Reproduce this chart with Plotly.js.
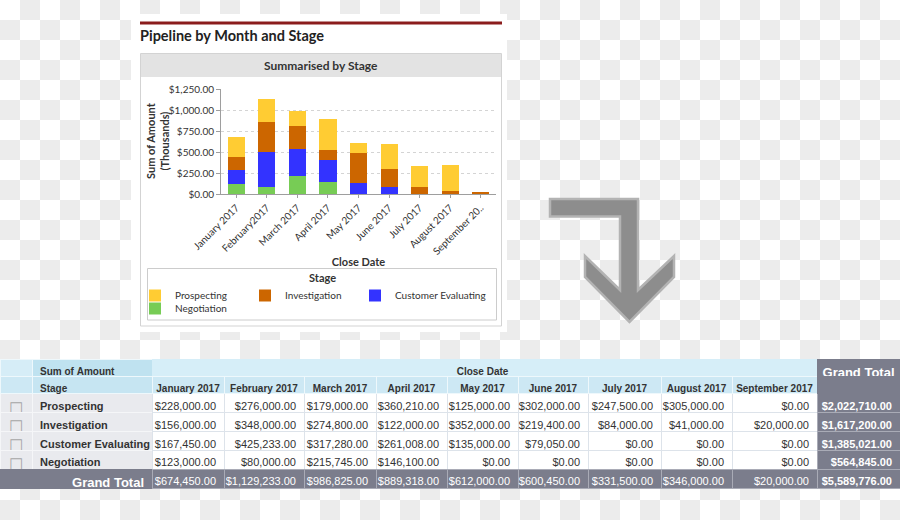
<!DOCTYPE html>
<html><head><meta charset="utf-8">
<script src="https://cdn.plot.ly/plotly-3.0.1.min.js"></script>
<style>
html,body{margin:0;padding:0;width:900px;height:520px;overflow:hidden;}
body{background:#fff repeating-conic-gradient(#ececec 0 25%, #ffffff 0 50%) 0 0/40px 40px;}
#tbl{position:absolute;left:0;top:0;width:900px;height:520px;}
#chart{position:absolute;left:131px;top:14px;width:376px;height:318px;}
</style></head>
<body><div id="tbl"></div><div id="chart"></div>
<script>
// ---------- data ----------
var stages = ['Prospecting', 'Investigation', 'Customer Evaluating', 'Negotiation'];
var months = ['January 2017', 'February 2017', 'March 2017', 'April 2017', 'May 2017', 'June 2017', 'July 2017', 'August 2017', 'September 2017'];
var chartTickLabels = ['January 2017', 'February2017', 'March 2017', 'April 2017', 'May 2017', 'June 2017', 'July 2017', 'August 2017', 'September 20..'];
var prospecting = [228000, 276000, 179000, 360210, 125000, 302000, 247500, 305000, 0];
var investigation = [156000, 348000, 274800, 122000, 352000, 219400, 84000, 41000, 20000];
var customerEvaluating = [167450, 425233, 317280, 261008, 135000, 79050, 0, 0, 0];
var negotiation = [123000, 80000, 215745, 146100, 0, 0, 0, 0, 0];
var monthTotals = [674450, 1129233, 986825, 889318, 612000, 600450, 331500, 346000, 20000];
var stageTotals = [2022710, 1617200, 1385021, 564845];
var grandTotal = 5589776;
var gridVals = [250, 500, 750, 1000];
var stageColors = ['#ffcc33', '#cc6600', '#3333ff', '#77cc55'];

var nb = function (s) { return s.replace(/ /g, '\u00a0'); };
var cfg = {staticPlot: true, displayModeBar: false};

// ---------- table ----------
(function () {
  var series = [prospecting, investigation, customerEvaluating, negotiation];
  var cols = [];
  cols.push(stages.map(function () { return '\u2610'; }).concat(['']));
  cols.push(stages.map(nb).concat([nb('Grand Total')]));
  months.forEach(function (m, i) {
    cols.push(series.map(function (s) { return s[i]; }).concat([monthTotals[i]]));
  });
  cols.push(stageTotals.concat([grandTotal]));

  var nCols = cols.length;
  var dark = '#7b7d8c';
  var hdrVals = [], hdrFill = [], hdrLine = [], hdrColor = [], hdrSize = [], hdrAlign = [];
  var celFill = [], celLine = [], celColor = [], celSize = [], celWeight = [], celAlign = [], fmt = [];
  for (var c = 0; c < nCols; c++) {
    var isMonth = c >= 2 && c < nCols - 1;
    if (c === 0) {
      hdrVals.push(['', '']); hdrFill.push(['#d6edf7', '#cde8f4']); hdrLine.push(['#eef8fc', '#eef8fc']);
      hdrColor.push('#333'); hdrSize.push(10); hdrAlign.push('center');
      celFill.push(['#e9eaee', '#e9eaee', '#e9eaee', '#e9eaee', dark]);
      celLine.push(['#f5f6f8', '#f5f6f8', '#f5f6f8', '#f5f6f8', dark]);
      celColor.push('#a6a6a6'); celSize.push(16); celWeight.push(400); celAlign.push('center'); fmt.push('');
    } else if (c === 1) {
      hdrVals.push([nb('Sum of Amount'), 'Stage']); hdrFill.push(['#bfe2f0', '#c6e5f2']); hdrLine.push(['#eef8fc', '#eef8fc']);
      hdrColor.push('#333'); hdrSize.push(10); hdrAlign.push('left');
      celFill.push(['#e9eaee', '#e9eaee', '#e9eaee', '#e9eaee', dark]);
      celLine.push(['#f5f6f8', '#f5f6f8', '#f5f6f8', '#f5f6f8', dark]);
      celColor.push(['#333', '#333', '#333', '#333', '#ffffff']); celSize.push([11, 11, 11, 11, 13]);
      celWeight.push(700); celAlign.push(['left', 'left', 'left', 'left', 'right']); fmt.push('');
    } else if (isMonth) {
      hdrVals.push([c === 6 ? nb('Close Date') : '', nb(months[c - 2])]);
      hdrFill.push(['#d6eef8', '#cde8f4']); hdrLine.push(['#d6eef8', '#eef8fc']);
      hdrColor.push('#333'); hdrSize.push(10); hdrAlign.push('center');
      celFill.push(['#ffffff', '#ffffff', '#ffffff', '#ffffff', dark]);
      celLine.push(['#dde3ea', '#dde3ea', '#dde3ea', '#dde3ea', '#a9abb6']);
      celColor.push(['#333', '#333', '#333', '#333', '#ffffff']); celSize.push(11);
      celWeight.push(400); celAlign.push('right'); fmt.push('$,.2f');
    } else {
      hdrVals.push([nb('Grand Total'), '']); hdrFill.push([dark, dark]); hdrLine.push([dark, dark]);
      hdrColor.push('#ffffff'); hdrSize.push(13); hdrAlign.push('center');
      celFill.push([dark, dark, dark, dark, dark]);
      celLine.push(['#a9abb6', '#a9abb6', '#a9abb6', '#a9abb6', '#a9abb6']);
      celColor.push('#ffffff'); celSize.push(11); celWeight.push(700); celAlign.push('right'); fmt.push('$,.2f');
    }
  }
  var widths = [32, 120, 72, 80, 72, 71, 71, 70, 73, 71, 85, 83];

  var P = function (x, y) { return (x / 900).toFixed(5) + ',' + (1 - y / 520).toFixed(5); };
  var arrowPts = [[550, 199], [638, 199], [638, 290], [674, 256], [674, 277], [629.5, 322], [585, 277], [585, 256], [620, 290], [620, 216.5], [550, 216.5]];
  var path = 'M' + arrowPts.map(function (p) { return P(p[0], p[1]); }).join('L') + 'Z';

  Plotly.newPlot('tbl', [{
    type: 'table',
    domain: {x: [0, 1], y: [0, 1 - 359.5 / 520]},
    columnwidth: widths,
    header: {
      values: hdrVals,
      height: 17,
      align: hdrAlign,
      fill: {color: hdrFill},
      line: {color: hdrLine, width: 1},
      font: {family: 'Liberation Sans, Arial, sans-serif', size: hdrSize, color: hdrColor, weight: 700}
    },
    cells: {
      values: cols,
      height: 18.9,
      align: celAlign,
      format: fmt,
      fill: {color: celFill},
      line: {color: celLine, width: 1},
      font: {family: 'Liberation Sans, Arial, sans-serif', size: celSize, color: celColor, weight: celWeight}
    }
  }], {
    width: 900, height: 520,
    margin: {l: 0, r: 0, t: 0, b: 0, autoexpand: false},
    paper_bgcolor: 'rgba(0,0,0,0)',
    shapes: [{type: 'path', xref: 'paper', yref: 'paper', path: path,
      fillcolor: '#8d8d8d', line: {color: '#b3b3b3', width: 2.5}}]
  }, cfg);
})();

// ---------- chart ----------
(function () {
  var W = 376, H = 318, OX = 131, OY = 14;
  var PL = 221, PR = 496, PT = 89, PB = 194;
  var PW = PR - PL, PH = PB - PT;
  var fx = function (px) { return (px - PL) / PW; };
  var fy = function (py) { return (PB - py) / PH; };
  var k = function (arr) { return arr.map(function (v) { return v / 1000; }); };
  var series = [prospecting, investigation, customerEvaluating, negotiation];
  var legendIds = ['legend', 'legend2', 'legend3', 'legend4'];
  var legendPos = [[135, 281], [245, 281], [355, 281], [135, 294]];
  var traces = [];
  for (var i = series.length - 1; i >= 0; i--) {
    traces.push({type: 'bar', name: stages[i], x: months, y: k(series[i]), legend: legendIds[i],
      marker: {color: stageColors[i], line: {width: 0}}});
  }
  var bold = function (size) { return {family: 'Lato, sans-serif', size: size, color: '#333', weight: 700}; };
  var layout = {
    width: W, height: H,
    margin: {l: PL - OX, r: OX + W - PR, t: PT - OY, b: OY + H - PB, autoexpand: false},
    paper_bgcolor: '#ffffff', plot_bgcolor: '#ffffff',
    barmode: 'stack', bargap: 0.44,
    title: {text: 'Pipeline by Month and Stage', font: {family: 'Lato, sans-serif', size: 14.5, color: '#222', weight: 700},
      xref: 'container', yref: 'container', x: 9 / W, xanchor: 'left', y: 1 - 22 / H, yanchor: 'middle'},
    xaxis: {type: 'category', tickvals: months, ticktext: chartTickLabels, tickangle: -45,
      tickfont: {family: 'Lato, sans-serif', size: 10, color: '#333'},
      showline: true, linecolor: '#9e9e9e', ticks: 'outside', ticklen: 3, tickcolor: '#9e9e9e',
      showgrid: false, zeroline: false, automargin: false,
      title: {text: 'Close Date', font: bold(11), standoff: 2}},
    yaxis: {range: [0, 1250], dtick: 250, tickformat: '$,.2f',
      tickfont: {family: 'Lato, sans-serif', size: 10, color: '#333'},
      showline: true, linecolor: '#9e9e9e', ticks: 'outside', ticklen: 4, tickcolor: '#9e9e9e',
      showgrid: false, zeroline: false, automargin: false,
      minor: {tickvals: gridVals, showgrid: true, gridcolor: '#d4d4d4', griddash: 'dot', gridwidth: 1, ticks: ''}},
    showlegend: true,
    shapes: [
      {type: 'line', xref: 'paper', yref: 'paper', x0: fx(140), x1: fx(502), y0: fy(23), y1: fy(23), line: {color: '#8b1c1c', width: 3}},
      {type: 'rect', xref: 'paper', yref: 'paper', x0: fx(140.5), x1: fx(501.5), y0: fy(53.5), y1: fy(326), line: {color: '#d3d3d3', width: 1}, layer: 'below'},
      {type: 'rect', xref: 'paper', yref: 'paper', x0: fx(141), x1: fx(501), y0: fy(54), y1: fy(77), fillcolor: '#e3e3e3', line: {width: 0}, layer: 'below'},
      {type: 'rect', xref: 'paper', yref: 'paper', x0: fx(147.5), x1: fx(496.5), y0: fy(268.5), y1: fy(320), fillcolor: '#ffffff', line: {color: '#cccccc', width: 1}, layer: 'below'}
    ],
    annotations: [
      {text: 'Summarised by Stage', xref: 'paper', yref: 'paper', x: fx(321), y: fy(66), xanchor: 'center', yanchor: 'middle', showarrow: false, font: bold(12)},
      {text: 'Stage', xref: 'paper', yref: 'paper', x: fx(322), y: fy(277), xanchor: 'center', yanchor: 'middle', showarrow: false, font: bold(11)},
      {text: 'Sum of Amount<br>(Thousands)', xref: 'paper', yref: 'paper', x: fx(157), y: fy(141), xanchor: 'center', yanchor: 'middle',
        textangle: -90, showarrow: false, font: bold(11)}
    ]
  };
  legendIds.forEach(function (id, j) {
    layout[id] = {orientation: 'h', x: fx(legendPos[j][0]), xanchor: 'left', y: fy(legendPos[j][1]), yanchor: 'top',
      bgcolor: 'rgba(0,0,0,0)', borderwidth: 0, font: {family: 'Lato, sans-serif', size: 10, color: '#333'}};
  });
  Plotly.newPlot('chart', traces, layout, cfg);
})();
</script>
</body></html>
